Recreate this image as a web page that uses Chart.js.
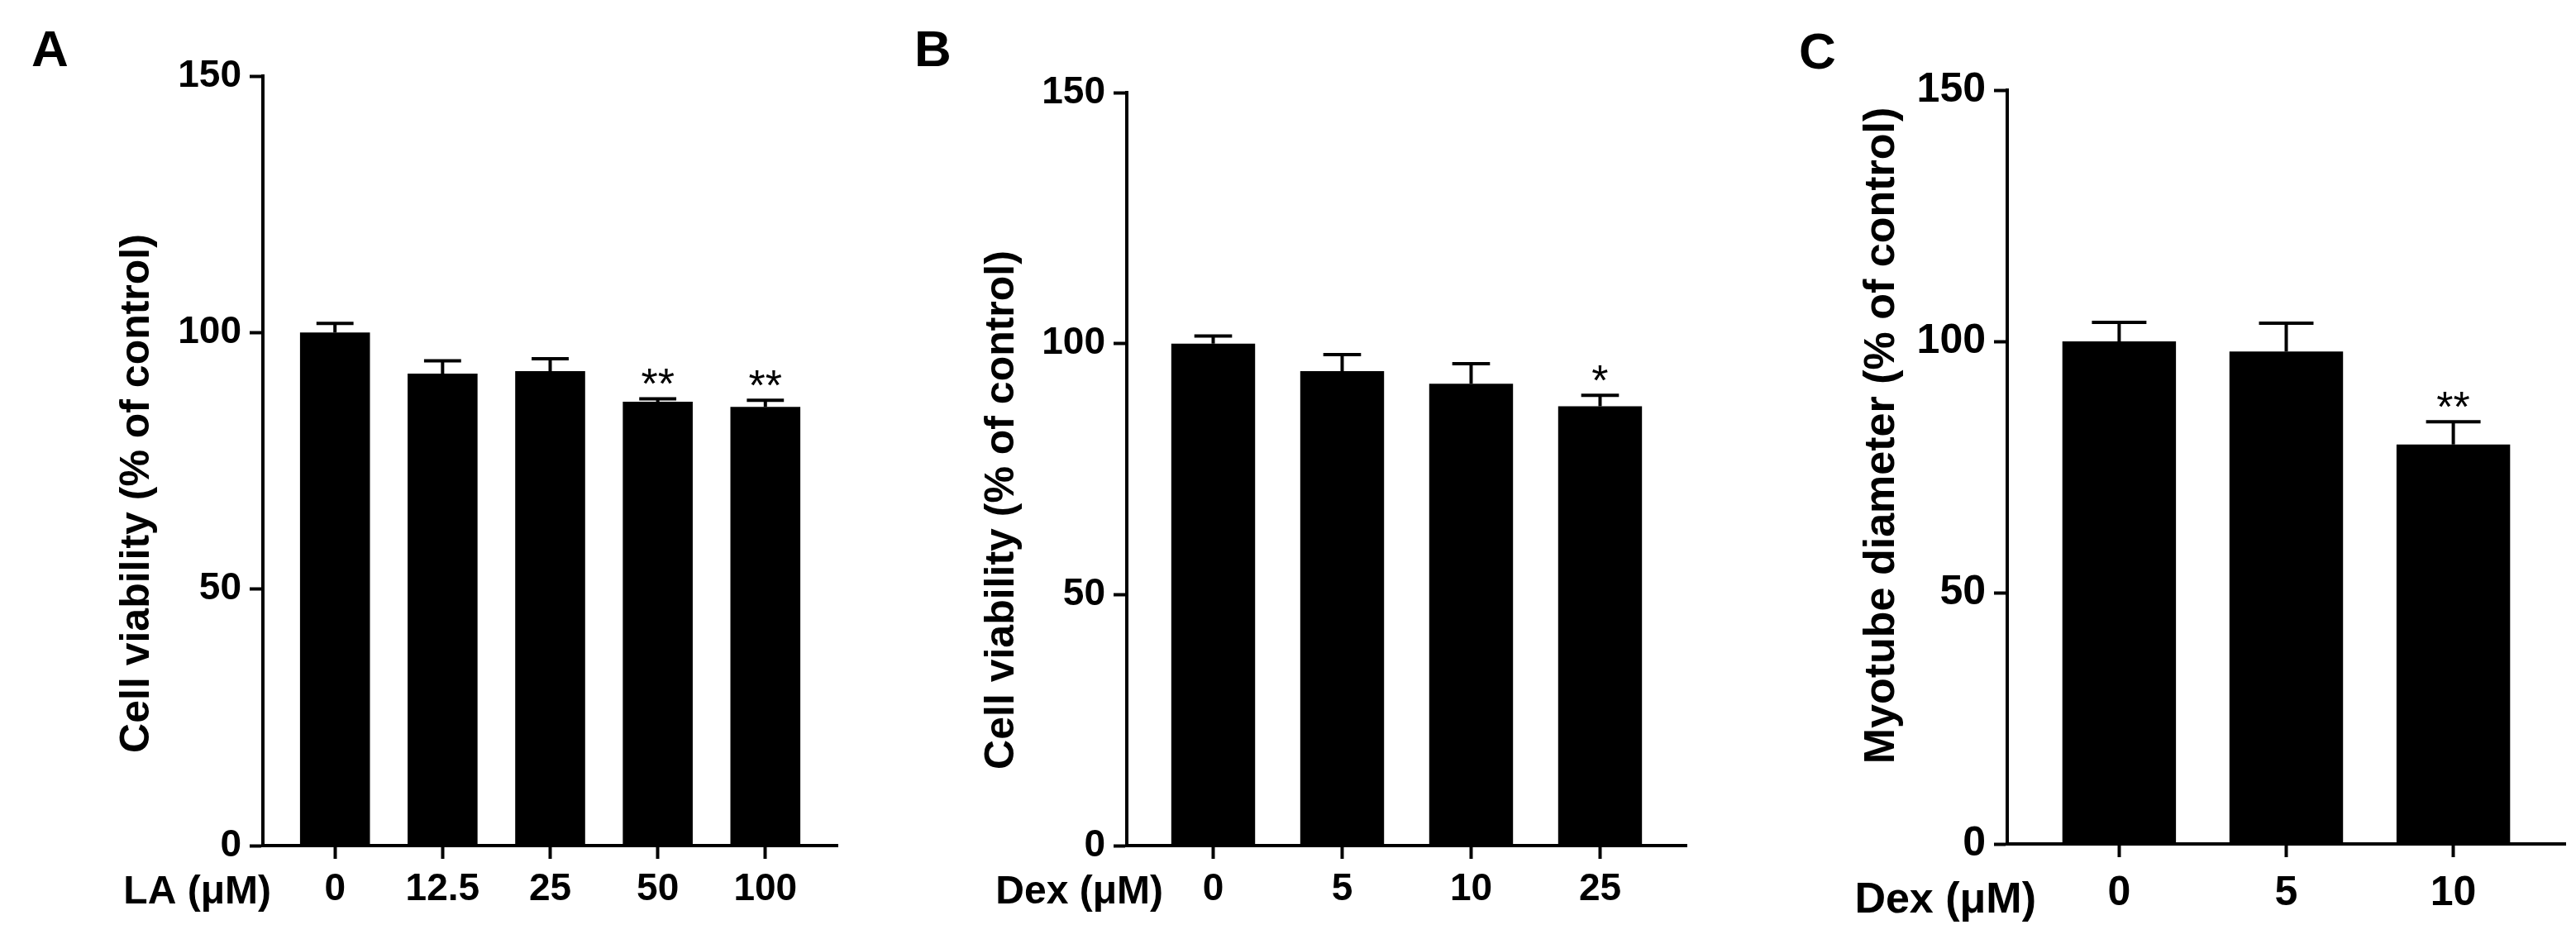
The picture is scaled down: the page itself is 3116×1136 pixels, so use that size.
<!DOCTYPE html>
<html>
<head>
<meta charset="utf-8">
<script src="https://cdn.jsdelivr.net/npm/chart.js@4.4.1/dist/chart.umd.min.js"></script>
<style>
  html, body { margin: 0; padding: 0; background: #fff; }
  #wrap { position: relative; width: 3116px; height: 1136px; overflow: hidden; }
  .panel { position: absolute; top: 0; height: 1136px; }
</style>
</head>
<body>
<div id="wrap">
  <div class="panel" style="left:0;width:1060px"><canvas id="chartA" width="1060" height="1136"></canvas></div>
  <div class="panel" style="left:1060px;width:1040px"><canvas id="chartB" width="1040" height="1136"></canvas></div>
  <div class="panel" style="left:2100px;width:1016px"><canvas id="chartC" width="1016" height="1136"></canvas></div>
</div>
<script>
// A: LA dose vs cell viability
const laDoses = ['0', '12.5', '25', '50', '100'];
const laViability = [100, 92, 92.5, 86.5, 85.5];
const laSem = [1.8, 2.5, 2.4, 0.6, 1.3];
const laSig = ['', '', '', '**', '**'];

// B: Dex dose vs cell viability
const dexDosesB = ['0', '5', '10', '25'];
const dexViability = [100, 94.5, 92, 87.5];
const dexSemB = [1.5, 3.3, 4.0, 2.2];
const dexSigB = ['', '', '', '*'];

// C: Dex dose vs myotube diameter
const dexDosesC = ['0', '5', '10'];
const myotubeDiameter = [100, 98, 79.5];
const dexSemC = [3.8, 5.6, 4.5];
const dexSigC = ['', '', '**'];

const yTicks = [0, 50, 100, 150];

const FONT = '"Liberation Sans", Arial, Helvetica, sans-serif';
Chart.defaults.font.family = FONT;
Chart.defaults.color = '#000';

// error bars (upper half only), stars, and the extra text around the axes
const annotate = {
    id: 'annotate',
    afterDatasetsDraw(chart, args, o) {
        const { ctx } = chart;
        const yScale = chart.scales.y;
        const bars = chart.getDatasetMeta(0).data;
        const vals = chart.data.datasets[0].data;
        ctx.save();
        ctx.strokeStyle = '#000';
        ctx.fillStyle = '#000';
        ctx.lineWidth = 4;
        o.errors.forEach((e, i) => {
            const cx = bars[i].x;
            const top = yScale.getPixelForValue(vals[i].y);
            const capY = yScale.getPixelForValue(vals[i].y + e);
            const half = bars[i].width * o.capRatio / 2;
            ctx.beginPath();
            ctx.moveTo(cx, top);
            ctx.lineTo(cx, capY);
            ctx.moveTo(cx - half, capY);
            ctx.lineTo(cx + half, capY);
            ctx.stroke();
            if (o.sig[i]) {
                ctx.font = `${o.starSize}px ${FONT}`;
                ctx.textAlign = 'center';
                ctx.textBaseline = 'alphabetic';
                ctx.fillText(o.sig[i], cx, capY + o.starShift);
            }
        });
        ctx.restore();
    },
    afterDraw(chart, args, o) {
        const { ctx } = chart;
        ctx.save();
        ctx.fillStyle = '#000';
        // panel letter
        ctx.font = `bold 62px ${FONT}`;
        ctx.textAlign = 'left';
        ctx.textBaseline = 'alphabetic';
        ctx.fillText(o.letter, o.letterX, o.letterY);
        // x unit label, same line as the tick labels
        ctx.font = `bold ${o.fontSize + 2}px ${FONT}`;
        ctx.textAlign = 'right';
        ctx.textBaseline = 'middle';
        ctx.fillText(o.unit, o.unitX, o.unitY);
        // y title
        ctx.translate(o.titleX, o.titleY);
        ctx.rotate(-Math.PI / 2);
        ctx.font = `bold ${o.titleSize}px ${FONT}`;
        ctx.textAlign = 'center';
        ctx.textBaseline = 'middle';
        ctx.fillText(o.yTitle, 0, 0);
        ctx.restore();
    }
};

function makePanel(id, labels, values, errs, sig, p) {
    const axisStyle = {
        border: { display: true, color: '#000', width: 4 },
        grid: { drawOnChartArea: false, drawTicks: true, tickLength: 16, tickWidth: 4, tickColor: '#000', offset: false }
    };
    return new Chart(document.getElementById(id), {
        type: 'bar',
        data: {
            datasets: [{
                data: values.map((v, i) => ({ x: i, y: v })),
                backgroundColor: '#000',
                borderWidth: 0,
                categoryPercentage: 1,
                barPercentage: p.barPct
            }]
        },
        options: {
            responsive: false,
            animation: false,
            devicePixelRatio: 1,
            layout: { padding: { left: 0, right: p.padRight, top: p.padTop, bottom: 0 } },
            plugins: {
                legend: { display: false },
                tooltip: { enabled: false },
                annotate: {
                    errors: errs, sig: sig, capRatio: p.capRatio,
                    starSize: p.starSize, starShift: p.starShift,
                    letter: p.letter, letterX: p.letterX, letterY: p.letterY,
                    unit: p.unit, unitX: p.unitX, unitY: p.unitY, fontSize: p.fontSize,
                    yTitle: p.yTitle, titleX: p.titleX, titleY: p.titleY, titleSize: p.titleSize
                }
            },
            scales: {
                x: {
                    type: 'linear',
                    offset: false,
                    min: -0.67,
                    max: labels.length - 0.33,
                    afterBuildTicks: s => { s.ticks = labels.map((_, i) => ({ value: i })); },
                    afterFit: s => { s.height = p.xHeight; },
                    ticks: {
                        autoSkip: false, maxRotation: 0, padding: p.xPad,
                        font: { size: p.fontSize, weight: 'bold' },
                        callback: v => labels[v]
                    },
                    ...axisStyle
                },
                y: {
                    min: 0,
                    max: 150,
                    afterBuildTicks: s => { s.ticks = yTicks.map(v => ({ value: v })); },
                    afterFit: s => { s.width = p.yWidth; },
                    ticks: { padding: 10, font: { size: p.fontSize, weight: 'bold' } },
                    ...axisStyle
                }
            }
        },
        plugins: [annotate]
    });
}

makePanel('chartA', laDoses, laViability, laSem, laSig, {
    yWidth: 318, padRight: 47, padTop: 92, xHeight: 113, xPad: 10,
    barPct: 0.65, capRatio: 0.53, starSize: 52, starShift: 0,
    fontSize: 46, titleSize: 50,
    letter: 'A', letterX: 38, letterY: 80,
    unit: 'LA (\u03bcM)', unitX: 328, unitY: 1080,
    yTitle: 'Cell viability (% of control)', titleX: 166, titleY: 597
});

makePanel('chartB', dexDosesB, dexViability, dexSemB, dexSigB, {
    yWidth: 303, padRight: 60, padTop: 112, xHeight: 113, xPad: 10,
    barPct: 0.65, capRatio: 0.45, starSize: 52, starShift: 0,
    fontSize: 46, titleSize: 50,
    letter: 'B', letterX: 46, letterY: 80,
    unit: 'Dex (\u03bcM)', unitX: 347, unitY: 1080,
    yTitle: 'Cell viability (% of control)', titleX: 152, titleY: 617
});

makePanel('chartC', dexDosesC, myotubeDiameter, dexSemC, dexSigC, {
    yWidth: 328, padRight: 13, padTop: 109, xHeight: 115, xPad: 14,
    barPct: 0.68, capRatio: 0.48, starSize: 52, starShift: 0,
    fontSize: 50, titleSize: 52,
    letter: 'C', letterX: 76, letterY: 83,
    unit: 'Dex (\u03bcM)', unitX: 363, unitY: 1090,
    yTitle: 'Myotube diameter (% of control)', titleX: 177, titleY: 527
});
</script>
</body>
</html>
